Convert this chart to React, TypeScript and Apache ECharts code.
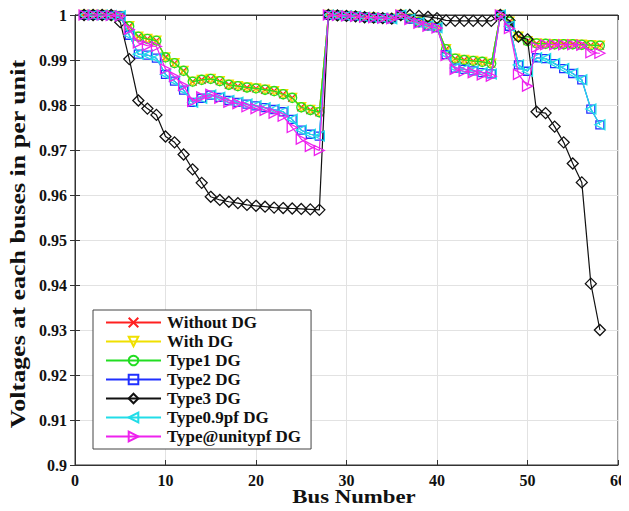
import React, { useEffect, useRef } from "react";
import * as echarts from "echarts";

// Bus numbers 1..58 of the feeder
const busNumbers: number[] = Array.from({ length: 58 }, (_, i) => i + 1);

const seriesNames = [
  "Without DG",
  "With DG",
  "Type1 DG",
  "Type2 DG",
  "Type3 DG",
  "Type0.9pf DG",
  "Type@unitypf DG",
];

// Bus voltages (p.u.)
const withoutDG = [
  1.0, 1.0, 1.0, 0.9999, 0.9998, 0.9975, 0.9952, 0.9947, 0.9943, 0.9906,
  0.9893, 0.9876, 0.9852, 0.9856, 0.9858, 0.9853, 0.9845, 0.9842, 0.9839, 0.9837,
  0.9834, 0.9831, 0.9824, 0.9816, 0.9795, 0.9789, 0.9784, 1.0, 0.9999, 0.9998,
  0.9997, 0.9995, 0.9994, 0.9993, 0.9992, 1.0, 0.9992, 0.9984, 0.9977, 0.9973,
  0.9924, 0.9903, 0.99, 0.9898, 0.9896, 0.9892, 1.0, 0.9985, 0.9952, 0.9942,
  0.9937, 0.9936, 0.9935, 0.9935, 0.9935, 0.9934, 0.9933, 0.9932,
];

const withDG = [
  1.0, 1.0, 1.0, 0.9999, 0.9998, 0.9975, 0.9952, 0.9947, 0.9943, 0.9906,
  0.9893, 0.9876, 0.9852, 0.9856, 0.9858, 0.9853, 0.9845, 0.9842, 0.9839, 0.9837,
  0.9834, 0.9831, 0.9824, 0.9816, 0.9795, 0.9789, 0.9784, 1.0, 0.9999, 0.9998,
  0.9997, 0.9995, 0.9994, 0.9993, 0.9992, 1.0, 0.9992, 0.9984, 0.9977, 0.9973,
  0.9924, 0.9903, 0.99, 0.9898, 0.9896, 0.9892, 1.0, 0.9985, 0.9952, 0.9942,
  0.9937, 0.9936, 0.9935, 0.9935, 0.9935, 0.9934, 0.9933, 0.9932,
];

const type1DG = [
  1.0, 1.0, 1.0, 0.9999, 0.9998, 0.9975, 0.9952, 0.9947, 0.9943, 0.9906,
  0.9893, 0.9876, 0.9852, 0.9856, 0.9858, 0.9853, 0.9845, 0.9842, 0.9839, 0.9837,
  0.9834, 0.9831, 0.9824, 0.9816, 0.9795, 0.9789, 0.9784, 1.0, 0.9999, 0.9998,
  0.9997, 0.9995, 0.9994, 0.9993, 0.9992, 1.0, 0.9992, 0.9984, 0.9977, 0.9973,
  0.9924, 0.9903, 0.99, 0.9898, 0.9896, 0.9892, 1.0, 0.9985, 0.9952, 0.9942,
  0.9937, 0.9936, 0.9935, 0.9935, 0.9935, 0.9934, 0.9933, 0.9932,
];

const type2DG = [
  1.0, 1.0, 1.0, 0.9999, 0.9998, 0.9955, 0.9913, 0.9911, 0.9904, 0.9868,
  0.9853, 0.9833, 0.9806, 0.9815, 0.9822, 0.9817, 0.981, 0.9806, 0.9802, 0.9798,
  0.9794, 0.979, 0.9785, 0.9768, 0.9744, 0.9735, 0.9731, 1.0, 0.9999, 0.9998,
  0.9997, 0.9995, 0.9994, 0.9993, 0.9992, 1.0, 0.9991, 0.9983, 0.9976, 0.9972,
  0.9912, 0.9882, 0.9879, 0.9876, 0.9872, 0.9869, 1.0, 0.9975, 0.9889, 0.9875,
  0.9905, 0.9903, 0.9892, 0.9881, 0.987, 0.9856, 0.9791, 0.9756,
];

const type3DG = [
  1.0, 1.0, 1.0, 1.0, 0.9984, 0.9902, 0.981, 0.9792, 0.9778, 0.973,
  0.9717, 0.969, 0.9657, 0.9627, 0.9596, 0.9589, 0.9585, 0.9582, 0.9578, 0.9576,
  0.9574, 0.9572, 0.9571, 0.957, 0.9569, 0.9568, 0.9567, 1.0, 0.9999, 0.9998,
  0.9997, 0.9995, 0.9994, 0.9993, 0.9992, 1.0, 1.0, 0.9998, 0.9996, 0.9993,
  0.9988, 0.9987, 0.9987, 0.9987, 0.9987, 0.9987, 1.0, 0.9988, 0.9952, 0.9946,
  0.9785, 0.9782, 0.9752, 0.9717, 0.967, 0.9628, 0.9403, 0.93,
];

const type09pfDG = [
  1.0, 1.0, 1.0, 0.9999, 0.9998, 0.9955, 0.9913, 0.9911, 0.9904, 0.9868,
  0.9853, 0.9833, 0.9806, 0.9815, 0.9822, 0.9817, 0.981, 0.9806, 0.9802, 0.9798,
  0.9794, 0.979, 0.9785, 0.9768, 0.9744, 0.9735, 0.9731, 1.0, 0.9999, 0.9998,
  0.9997, 0.9995, 0.9994, 0.9993, 0.9992, 1.0, 0.9991, 0.9983, 0.9976, 0.9972,
  0.9912, 0.9882, 0.9879, 0.9876, 0.9872, 0.9869, 1.0, 0.9975, 0.9889, 0.9875,
  0.9905, 0.9903, 0.9892, 0.9881, 0.987, 0.9856, 0.9791, 0.9756,
];

const typeUnityPfDG = [
  1.0, 1.0, 1.0, 0.9999, 0.9998, 0.9968, 0.9938, 0.9932, 0.993, 0.988,
  0.9863, 0.9843, 0.9808, 0.9818, 0.9824, 0.9815, 0.9806, 0.9803, 0.9796, 0.9792,
  0.9788, 0.9782, 0.9775, 0.975, 0.9724, 0.9708, 0.9699, 1.0, 0.9999, 0.9998,
  0.9997, 0.9995, 0.9994, 0.9993, 0.9992, 1.0, 0.999, 0.9982, 0.9975, 0.9971,
  0.991, 0.9879, 0.9875, 0.9872, 0.9867, 0.9864, 1.0, 0.997, 0.9868, 0.9842,
  0.9928, 0.9934, 0.9934, 0.9934, 0.9934, 0.9933, 0.9916, 0.9915,
];

const xTicks = [0, 10, 20, 30, 40, 50, 60];
const yTicks = [0.9, 0.91, 0.92, 0.93, 0.94, 0.95, 0.96, 0.97, 0.98, 0.99, 1];

const xTitle = "Bus Number";
const yTitle = "Voltages at each buses in per unit";

const FONT = "'Liberation Serif', 'Times New Roman', serif";

// Cross marker drawn as two strokes
const CROSS = "path://M0,0L10,10M10,0L0,10";

type Style = {
  color: string;
  symbol: string;
  rotate: number;
  size: number;
};

const styles: Style[] = [
  { color: "#ff2020", symbol: CROSS, rotate: 0, size: 8 },
  { color: "#f0e000", symbol: "triangle", rotate: 180, size: 9 },
  { color: "#22dd22", symbol: "circle", rotate: 0, size: 9 },
  { color: "#2030ff", symbol: "rect", rotate: 0, size: 8 },
  { color: "#111111", symbol: "diamond", rotate: 0, size: 11 },
  { color: "#22dde8", symbol: "triangle", rotate: 90, size: 10 },
  { color: "#ee22ee", symbol: "triangle", rotate: -90, size: 10 },
];

const seriesValues = [
  withoutDG,
  withDG,
  type1DG,
  type2DG,
  type3DG,
  type09pfDG,
  typeUnityPfDG,
];

export default function App() {
  const ref = useRef<HTMLDivElement>(null);

  useEffect(() => {
    if (!ref.current) return;
    const chart = echarts.init(ref.current, undefined, { renderer: "svg" });

    const series = seriesNames.map((name, k) => {
      const s = styles[k];
      return {
        name,
        type: "line",
        data: busNumbers.map((b, i) => [b, seriesValues[k][i]]),
        symbol: s.symbol,
        symbolSize: s.size,
        symbolRotate: s.rotate,
        showAllSymbol: true,
        lineStyle: { color: s.color, width: 1.2 },
        itemStyle: {
          color: "rgba(255,255,255,0)",
          borderColor: s.color,
          borderWidth: 1.3,
        },
        emphasis: { disabled: true },
        z: 2 + k,
      };
    });

    const titleStyle = {
      fontFamily: FONT,
      fontWeight: "bold",
      fill: "#111",
      align: "center",
      verticalAlign: "middle",
      textAlign: "center",
      textVerticalAlign: "middle",
    };

    chart.setOption({
      animation: false,
      backgroundColor: "#ffffff",
      textStyle: { fontFamily: FONT },
      grid: {
        left: 75,
        right: 7,
        top: 15,
        bottom: 46,
        show: true,
        borderColor: "#333",
        borderWidth: 1,
        backgroundColor: "#fff",
      },
      // axis titles, slightly widened along the reading direction
      graphic: [
        {
          type: "text",
          x: 354,
          y: 497,
          scaleX: 1.2,
          silent: true,
          style: { ...titleStyle, text: xTitle, fontSize: 19 },
        },
        {
          type: "text",
          x: 18,
          y: 244,
          rotation: Math.PI / 2,
          scaleX: 1.3,
          silent: true,
          style: { ...titleStyle, text: yTitle, fontSize: 20 },
        },
      ],
      legend: {
        orient: "vertical",
        left: 93,
        top: 310,
        data: seriesNames,
        itemWidth: 55,
        itemHeight: 12,
        itemGap: 2,
        padding: [4, 10, 4, 12],
        backgroundColor: "#ffffff",
        borderColor: "#444",
        borderWidth: 1,
        borderRadius: 0,
        textStyle: {
          fontFamily: FONT,
          fontWeight: "bold",
          fontSize: 17,
          lineHeight: 17,
          color: "#111",
          padding: [0, 0, 0, 1],
        },
      },
      xAxis: [
        {
          type: "value",
          min: 0,
          max: 60,
          interval: 10,
          axisLine: { show: true, lineStyle: { color: "#333" } },
          axisTick: { show: true, inside: true, length: 5, lineStyle: { color: "#333" } },
          axisLabel: {
            fontFamily: FONT,
            fontWeight: "bold",
            fontSize: 16,
            color: "#111",
            margin: 7,
            customValues: xTicks,
          },
          splitLine: { show: true, lineStyle: { color: "#e2e2e2", width: 1 } },
        },
        {
          type: "value",
          position: "top",
          min: 0,
          max: 60,
          interval: 10,
          axisLine: { show: true, lineStyle: { color: "#333" } },
          axisTick: { show: true, inside: true, length: 5, lineStyle: { color: "#333" } },
          axisLabel: { show: false },
          splitLine: { show: false },
        },
      ],
      yAxis: [
        {
          type: "value",
          min: 0.9,
          max: 1,
          interval: 0.01,
          axisLine: { show: true, lineStyle: { color: "#333" } },
          axisTick: { show: true, inside: true, length: 5, lineStyle: { color: "#333" } },
          axisLabel: {
            fontFamily: FONT,
            fontWeight: "bold",
            fontSize: 16,
            color: "#111",
            margin: 8,
            formatter: (v: number) => {
              const hit = yTicks.find((t) => Math.abs(t - v) < 1e-6);
              return String(hit !== undefined ? hit : +v.toFixed(2));
            },
          },
          splitLine: { show: true, lineStyle: { color: "#e2e2e2", width: 1 } },
        },
        {
          type: "value",
          position: "right",
          min: 0.9,
          max: 1,
          interval: 0.01,
          axisLine: { show: true, lineStyle: { color: "#333" } },
          axisTick: { show: true, inside: true, length: 5, lineStyle: { color: "#333" } },
          axisLabel: { show: false },
          splitLine: { show: false },
        },
      ],
      series,
    });

    return () => chart.dispose();
  }, []);

  return <div ref={ref} style={{ width: 629, height: 511, margin: -8 }} />;
}
